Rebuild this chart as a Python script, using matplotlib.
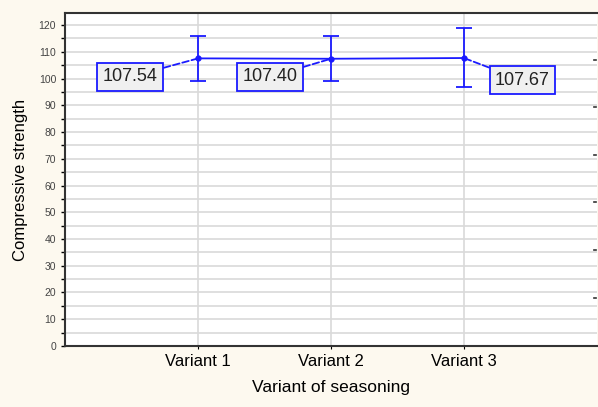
import matplotlib.pyplot as plt
import numpy as np

plt.rcParams['font.family'] = ['Liberation Sans', 'DejaVu Sans']

# data
variants = ["Variant 1", "Variant 2", "Variant 3"]
means = [107.54, 107.40, 107.67]
upper = [116.0, 116.0, 119.0]
lower = [99.0, 99.0, 97.0]
labels = ["107.54", "107.40", "107.67"]

blue = "#1a1aff"
x = np.arange(1, len(variants) + 1)

fig = plt.figure(figsize=(5.98, 4.07), dpi=100, facecolor="#fdf9ef")
ax = fig.add_axes([0.109, 0.150, 0.889, 0.818])

# grid
ax.set_yticks(np.arange(0, 121, 10))
ax.set_yticks(np.arange(5, 125, 10), minor=True)
ax.grid(True, which="both", axis="y", color="#d9d9d9", lw=1.2)
ax.grid(True, which="major", axis="x", color="#d9d9d9", lw=1.2)
ax.set_axisbelow(True)

yerr = [np.array(means) - np.array(lower), np.array(upper) - np.array(means)]
ax.errorbar(x, means, yerr=yerr, color=blue, lw=1.3, capsize=6, capthick=1.3,
            marker="o", markersize=3.5)

# value boxes
box_pos = [(0.49, 100.6), (1.54, 100.6), (3.44, 99.4)]
for xi, yi, lab, (bx, by) in zip(x, means, labels, box_pos):
    ax.annotate(lab, xy=(xi, yi), xytext=(bx, by), ha="center", va="center",
                fontsize=13, color="#222222",
                bbox=dict(boxstyle="square,pad=0.3", fc="#f0f0f0", ec=blue, lw=1.3),
                arrowprops=dict(arrowstyle="-", color=blue, ls="--", lw=1.3,
                                shrinkA=0, shrinkB=1))

ax.set_xlim(0, 4)
ax.set_ylim(0, 124.5)
ax.set_xticks(x)
ax.set_xticklabels(variants, fontsize=12)
ax.tick_params(axis="y", labelsize=7.5, labelcolor="#444444", length=3, width=1)
ax.tick_params(axis="y", which="minor", length=3, width=1)
ax.tick_params(axis="x", length=2, direction="out")

# small tick marks on right edge
for v in [106.9, 89.3, 71.4, 53.8, 35.9, 17.9]:
    ax.plot([3.98, 3.995], [v, v], color="#333333", lw=1.2, clip_on=False)

for s in ["left", "bottom", "top"]:
    ax.spines[s].set_linewidth(1.5)
    ax.spines[s].set_color("#333333")
ax.spines["right"].set_visible(False)

ax.set_xlabel("Variant of seasoning", fontsize=12.5, labelpad=8)
ax.set_ylabel("Compressive strength", fontsize=12, labelpad=8)

fig.savefig("out.png", dpi=100, facecolor=fig.get_facecolor())
